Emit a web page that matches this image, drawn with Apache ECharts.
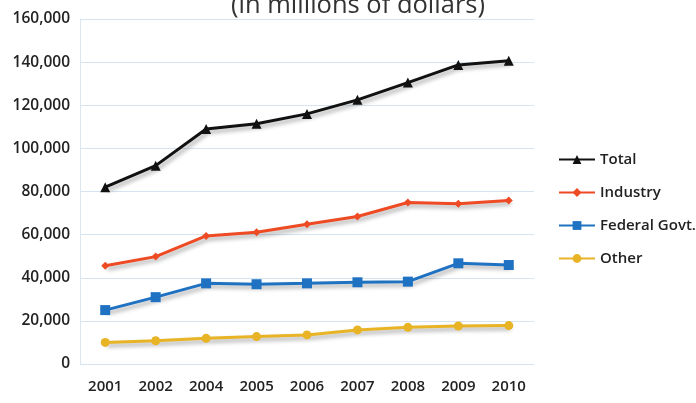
<!DOCTYPE html>
<html>
<head>
<meta charset="utf-8">
<script src="https://cdn.jsdelivr.net/npm/echarts@6/dist/echarts.min.js"></script>
<style>
  html, body { margin: 0; padding: 0; background: #fff; }
  #chart { width: 696px; height: 403px; }
</style>
</head>
<body>
<div id="chart"></div>
<script>
var years = ['2001', '2002', '2004', '2005', '2006', '2007', '2008', '2009', '2010'];
var total = [82000, 92000, 109000, 111400, 116000, 122500, 130500, 138700, 140600];
var industry = [45600, 49800, 59400, 61100, 64800, 68400, 74900, 74300, 75800];
var federal = [25000, 31000, 37400, 37000, 37400, 37900, 38200, 46700, 45900];
var other = [10000, 10800, 11900, 12700, 13500, 15800, 17000, 17600, 17800];

var chart = echarts.init(document.getElementById('chart'));

function line(name, data, color, symbol, size) {
  return {
    name: name,
    type: 'line',
    data: data,
    symbol: symbol,
    symbolSize: size,
    itemStyle: { color: color },
    lineStyle: {
      color: color,
      width: 3,
      shadowColor: 'rgba(0,0,0,0.35)',
      shadowBlur: 4,
      shadowOffsetX: 2,
      shadowOffsetY: 3
    }
  };
}

var font = '"Open Sans", "DejaVu Sans", sans-serif';

chart.setOption({
  animation: false,
  title: {
    text: '(in millions of dollars)',
    left: 353,
    textAlign: 'center',
    top: -12,
    textStyle: { fontSize: 25.5, fontWeight: 'normal', color: '#333', fontFamily: font }
  },
  legend: {
    orient: 'vertical',
    left: 553,
    top: 147,
    itemWidth: 36,
    itemHeight: 11,
    itemGap: 18,
    textStyle: { fontSize: 15, fontWeight: 600, color: '#222', fontFamily: font },
    data: ['Total', 'Industry', 'Federal Govt.', 'Other']
  },
  grid: { left: 80, top: 19, width: 454, height: 345 },
  xAxis: {
    type: 'category',
    data: years,
    boundaryGap: true,
    axisLine: { show: false },
    axisTick: { show: false },
    axisLabel: { fontSize: 15, fontWeight: 600, color: '#222', margin: 15, fontFamily: font }
  },
  yAxis: {
    type: 'value',
    min: 0,
    max: 160000,
    interval: 20000,
    axisLine: { show: true, lineStyle: { color: '#dbe6ef' } },
    axisTick: { show: false },
    splitLine: { lineStyle: { color: '#d5e4f0' } },
    axisLabel: {
      fontSize: 15.5,
      fontWeight: 600,
      color: '#222',
      margin: 10,
      fontFamily: font,
      formatter: function (v) { return v.toLocaleString('en-US'); }
    }
  },
  series: [
    line('Total', total, '#111111', 'triangle', 10),
    line('Industry', industry, '#ee4a24', 'diamond', 8),
    line('Federal Govt.', federal, '#1f72c2', 'rect', 10),
    line('Other', other, '#e8b425', 'circle', 9)
  ]
});
</script>
</body>
</html>
